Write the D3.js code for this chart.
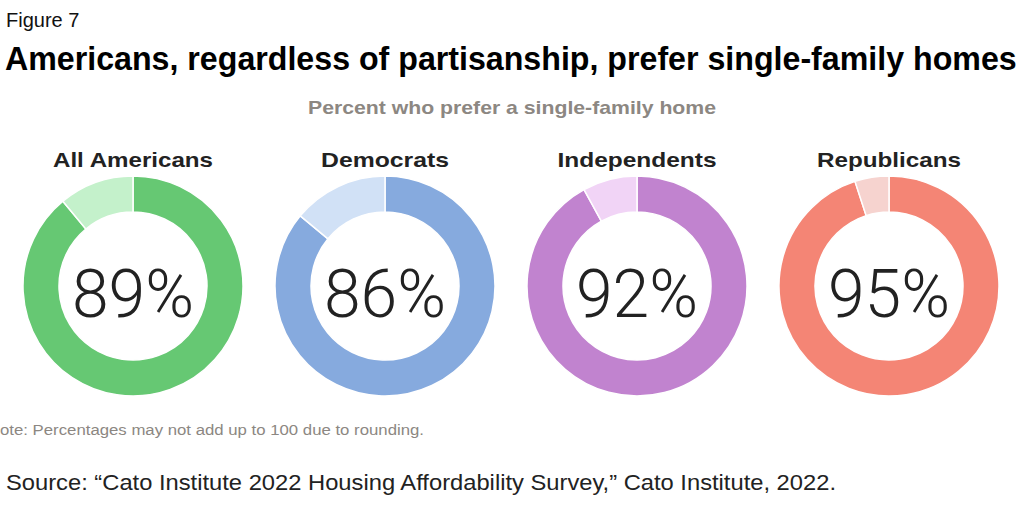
<!DOCTYPE html>
<html><head><meta charset="utf-8">
<script src="https://cdn.jsdelivr.net/npm/d3@7/dist/d3.min.js"></script>
<style>body{margin:0;background:#fff;}svg{display:block;}</style>
</head><body>
<svg id="c" width="1024" height="512"></svg>
<script>
const groups = ["All Americans", "Democrats", "Independents", "Republicans"];
const values = [89, 86, 92, 95];
const mainColors = ["#66c873", "#86aade", "#c183cf", "#f48575"];
const lightColors = ["#c4f1cb", "#d1e1f6", "#f1d4f6", "#f6d3cf"];
const labelWidths = [160, 128, 159, 144];

const svg = d3.select("#c");
const SANS = "Liberation Sans, Arial, sans-serif";

svg.append("text").attr("x", 6).attr("y", 27)
  .attr("font-family", SANS).attr("font-size", 20)
  .attr("fill", "#111").text("Figure 7");

// Title: condensed by horizontal scaling to fit the reference width
const title = svg.append("text")
  .attr("font-family", SANS).attr("font-weight", "bold")
  .attr("font-size", 33).attr("fill", "#000")
  .text("Americans, regardless of partisanship, prefer single-family homes");
const tLen = title.node().getComputedTextLength();
title.attr("transform", `translate(5,70) scale(${1012 / tLen},1)`);

svg.append("text").attr("x", 512).attr("y", 114).attr("text-anchor", "middle")
  .attr("font-family", SANS).attr("font-weight", "bold")
  .attr("font-size", 19).attr("fill", "#8c8782")
  .attr("textLength", 408).attr("lengthAdjust", "spacingAndGlyphs")
  .text("Percent who prefer a single-family home");

const x = d3.scalePoint().domain(groups).range([133, 889]);
const outerR = 110, innerR = 74, cy = 286;

const pie = d3.pie().sort(null).value(d => d);
const arc = d3.arc().innerRadius(innerR).outerRadius(outerR);

groups.forEach((g, i) => {
  const cx = x(g);
  const gg = svg.append("g").attr("transform", `translate(${cx},${cy})`);
  const data = pie([values[i], 100 - values[i]]);
  gg.selectAll("path").data(data).join("path")
    .attr("d", arc)
    .attr("fill", (d, j) => j === 0 ? mainColors[i] : lightColors[i])
    .attr("stroke", "#fff").attr("stroke-width", 1.5);
  gg.append("text").attr("y", 31).attr("text-anchor", "middle")
    .attr("font-family", "Roboto, sans-serif").attr("font-weight", 300)
    .attr("font-size", 66).attr("fill", "#222")
    .text(values[i] + "%");
  svg.append("text").attr("x", cx).attr("y", 167).attr("text-anchor", "middle")
    .attr("font-family", SANS).attr("font-weight", "bold")
    .attr("font-size", 21).attr("fill", "#222")
    .attr("textLength", labelWidths[i]).attr("lengthAdjust", "spacingAndGlyphs")
    .text(g);
});

svg.append("text").attr("x", 0).attr("y", 435)
  .attr("font-family", SANS)
  .attr("font-size", 15.5).attr("fill", "#8c8782")
  .attr("textLength", 424).attr("lengthAdjust", "spacingAndGlyphs")
  .text("ote: Percentages may not add up to 100 due to rounding.");

svg.append("text").attr("x", 6).attr("y", 490)
  .attr("font-family", SANS)
  .attr("font-size", 21.5).attr("fill", "#222")
  .attr("textLength", 830).attr("lengthAdjust", "spacingAndGlyphs")
  .text("Source: \u201cCato Institute 2022 Housing Affordability Survey,\u201d Cato Institute, 2022.");
</script>
</body></html>
